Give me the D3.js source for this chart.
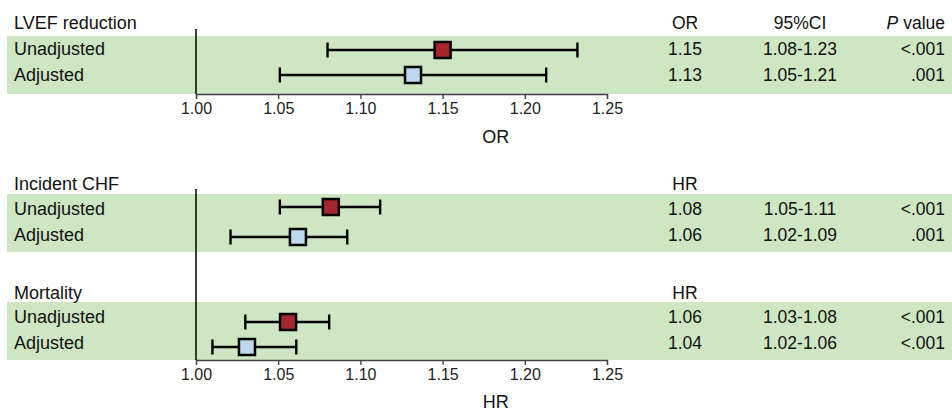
<!DOCTYPE html>
<html>
<head>
<meta charset="utf-8">
<script src="https://cdn.jsdelivr.net/npm/d3@7"></script>
<style>
  body { margin: 0; background: #fff; }
  svg { display: block; font-family: "Liberation Sans", Arial, sans-serif; }
</style>
</head>
<body>
<svg width="952" height="414"></svg>
<script>
// data
const groups = ["LVEF reduction", "Incident CHF", "Mortality"];
const measures = ["OR", "HR", "HR"];
const rowLabels = ["Unadjusted", "Adjusted"];
const estimates = [[1.150, 1.132], [1.082, 1.062], [1.056, 1.031]];
const lower = [[1.080, 1.051], [1.051, 1.021], [1.030, 1.010]];
const upper = [[1.232, 1.213], [1.112, 1.092], [1.081, 1.061]];
const estText = [["1.15", "1.13"], ["1.08", "1.06"], ["1.06", "1.04"]];
const ciText = [["1.08-1.23", "1.05-1.21"], ["1.05-1.11", "1.02-1.09"], ["1.03-1.08", "1.02-1.06"]];
const pText = [["<.001", ".001"], ["<.001", ".001"], ["<.001", "<.001"]];
const tickValues = [1.00, 1.05, 1.10, 1.15, 1.20, 1.25];
const axisTitles = ["OR", "HR"];

// layout
const bandTops = [36, 194, 302];
const bandH = 58;
const rowBase = [19, 21, 21];
const markerOffsets = [[14, 39], [13, 43], [20, 45]];
const headY = [29, 190, 299];
const axisY = [94, 360];
const titleY = [143, 408];
const refTop = [29, 189];
const colEst = 685, colCI = 800, colP = 945;
const fillColors = ["#a5262f", "#bdd7ee"];

const svg = d3.select("svg");
const x = d3.scaleLinear().domain([1.00, 1.25]).range([196, 607]);

// green bands
svg.append("g").selectAll("rect")
    .data(bandTops)
    .enter()
    .append("rect")
    .attr("x", 7)
    .attr("y", d => d)
    .attr("width", 945)
    .attr("height", bandH)
    .attr("fill", "#cfe6c3");

// axes
axisY.forEach(function (ay, i) {
    const g = svg.append("g")
        .attr("transform", "translate(0," + ay + ")")
        .call(d3.axisBottom(x).tickValues(tickValues).tickFormat(d3.format(".2f")).tickSizeOuter(0).tickSize(5).tickPadding(4));
    g.select(".domain").attr("stroke", "#404040").attr("stroke-width", 1.3);
    g.selectAll(".tick line").attr("stroke", "#404040").attr("stroke-width", 1.3);
    g.selectAll(".tick text")
        .attr("font-size", 16)
        .attr("font-family", "Liberation Sans, Arial, sans-serif")
        .attr("fill", "#222");
    svg.append("text")
        .attr("x", x(1.175) + 12)
        .attr("y", titleY[i])
        .attr("text-anchor", "middle")
        .attr("font-size", 18)
        .attr("fill", "#111")
        .text(axisTitles[i]);
    // reference line at 1
    svg.append("line")
        .attr("x1", x(1)).attr("x2", x(1))
        .attr("y1", refTop[i]).attr("y2", ay)
        .attr("stroke", "#000")
        .attr("stroke-width", 1.5);
});

// column headers for the first block
svg.append("text").attr("x", colCI).attr("y", headY[0]).attr("text-anchor", "middle")
    .attr("font-size", 17.5).attr("fill", "#111").text("95%CI");
const pv = svg.append("text").attr("x", colP).attr("y", headY[0]).attr("text-anchor", "end")
    .attr("font-size", 17.5).attr("fill", "#111");
pv.append("tspan").attr("font-style", "italic").text("P");
pv.append("tspan").text(" value");

groups.forEach(function (name, gi) {
    const top = bandTops[gi];
    svg.append("text")
        .attr("x", 14).attr("y", headY[gi])
        .attr("font-size", 18).attr("fill", "#111")
        .text(name);
    svg.append("text")
        .attr("x", colEst).attr("y", headY[gi]).attr("text-anchor", "middle")
        .attr("font-size", 17.5).attr("fill", "#111")
        .text(measures[gi]);

    const rows = rowLabels.map(function (lab, ri) {
        return {
            label: lab, ri: ri,
            est: estimates[gi][ri], lo: lower[gi][ri], hi: upper[gi][ri],
            estT: estText[gi][ri], ciT: ciText[gi][ri], pT: pText[gi][ri],
            ty: top + rowBase[gi] + ri * 25.5,
            my: top + markerOffsets[gi][ri]
        };
    });

    const r = svg.append("g").selectAll("g").data(rows).enter().append("g");

    r.append("text").attr("x", 14).attr("y", d => d.ty)
        .attr("font-size", 18).attr("fill", "#111").text(d => d.label);
    r.append("text").attr("x", colEst).attr("y", d => d.ty).attr("text-anchor", "middle")
        .attr("font-size", 17.5).attr("fill", "#111").text(d => d.estT);
    r.append("text").attr("x", colCI).attr("y", d => d.ty).attr("text-anchor", "middle")
        .attr("font-size", 17.5).attr("fill", "#111").text(d => d.ciT);
    r.append("text").attr("x", colP).attr("y", d => d.ty).attr("text-anchor", "end")
        .attr("font-size", 17.5).attr("fill", "#111").text(d => d.pT);

    // CI line and caps
    r.append("line")
        .attr("x1", d => x(d.lo)).attr("x2", d => x(d.hi))
        .attr("y1", d => d.my).attr("y2", d => d.my)
        .attr("stroke", "#000").attr("stroke-width", 2.4);
    r.append("line")
        .attr("x1", d => x(d.lo)).attr("x2", d => x(d.lo))
        .attr("y1", d => d.my - 7.5).attr("y2", d => d.my + 7.5)
        .attr("stroke", "#000").attr("stroke-width", 2.4);
    r.append("line")
        .attr("x1", d => x(d.hi)).attr("x2", d => x(d.hi))
        .attr("y1", d => d.my - 7.5).attr("y2", d => d.my + 7.5)
        .attr("stroke", "#000").attr("stroke-width", 2.4);
    // point estimate square
    r.append("rect")
        .attr("x", d => x(d.est) - 8)
        .attr("y", d => d.my - 8)
        .attr("width", 16).attr("height", 16)
        .attr("fill", d => fillColors[d.ri])
        .attr("stroke", "#000").attr("stroke-width", 2.5);
});
</script>
</body>
</html>
